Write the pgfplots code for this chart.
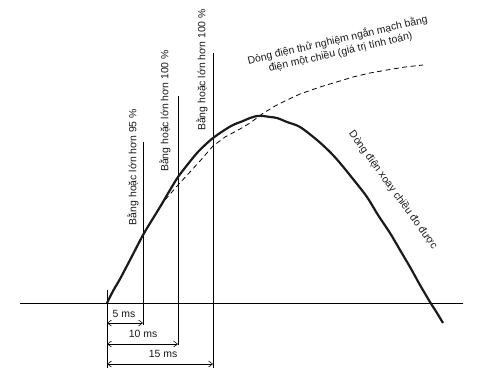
\documentclass[border=0pt]{standalone}
\usepackage{pgfplots}
\pgfplotsset{compat=1.18}
\usepackage{fontspec}
\setmainfont{Liberation Sans}
\usetikzlibrary{arrows.meta}
\definecolor{ink}{HTML}{1A1A1A}
\definecolor{thin}{HTML}{404040}
\begin{document}
\begin{tikzpicture}
\begin{axis}[
  scale only axis, width=477bp, height=378bp,
  xmin=0, xmax=477, ymin=0, ymax=378, y dir=reverse,
  axis lines=none, clip=false,
  every axis plot/.append style={mark=none},
  >={Straight Barb[length=4pt,width=6pt]},
]
\path (axis cs:0,0) rectangle (axis cs:477,378);
% baseline
\addplot[thin, line width=0.9pt] coordinates {(20,303) (463,303)};
% vertical reference lines
\addplot[thin, line width=0.6pt] coordinates {(107,290) (107,368)};
\addplot[thin, line width=0.6pt] coordinates {(143,142) (143,325)};
\addplot[thin, line width=0.6pt] coordinates {(178,96) (178,345)};
\addplot[thin, line width=0.6pt] coordinates {(213,53) (213,368)};
% dimension arrows
\addplot[thin, line width=0.6pt, <->] coordinates {(107,323) (143,323)};
\addplot[thin, line width=0.6pt, <->] coordinates {(107,344) (178,344)};
\addplot[thin, line width=0.6pt, <->] coordinates {(107,364) (213,364)};
% DC calculated current (dashed)
\addplot[thin, line width=0.8pt, dash pattern=on 5pt off 3.5pt] coordinates {
(107,303) (120,279) (130,260) (143,236) (155,215) (165,200) (178,185) (190,172)
(200,161) (213,146) (225,137) (240,129) (250,123) (262,114) (275,106) (287,100)
(300,94) (320,87) (340,81) (353,77) (370,73) (387,70) (405,67) (423,65)};
% measured AC current (solid)
\addplot[ink, line width=2.2pt, smooth] coordinates {
(107,303) (113,291) (120,279) (130,260) (143,235) (152,220) (160,207) (170,190)
(178,177) (188,164) (197,153) (205,145) (213,138) (223,131) (233,125) (243,121)
(250,118) (257,116) (263,116) (270,117) (277,118) (287,122) (300,127) (317,140)
(330,152) (340,163) (353,179) (367,197) (378,215) (390,233) (400,250) (410,267)
(420,285) (430,302) (437,313) (443,323)};
% labels
\begin{scope}[every node/.style={text=ink, font=\fontsize{10.5}{12.5}\selectfont, inner sep=0pt}]
\node[rotate=90] at (axis cs:133,167) {Bằng hoặc lớn hơn 95 \%};
\node[rotate=90] at (axis cs:165,111) {Bằng hoặc lớn hơn 100 \%};
\node[rotate=90] at (axis cs:202,70) {Bằng hoặc lớn hơn 100 \%};
\node at (axis cs:124,314) {5 ms};
\node at (axis cs:143,334) {10 ms};
\node at (axis cs:163,354) {15 ms};
\node[rotate=13, align=center] at (axis cs:339,46) {Dòng điện thử nghiệm ngắn mạch bằng\\điện một chiều (giá trị tính toán)};
\node[rotate=-54] at (axis cs:393,190) {Dòng điện xoay chiều đo được};
\end{scope}
\end{axis}
\end{tikzpicture}
\end{document}
